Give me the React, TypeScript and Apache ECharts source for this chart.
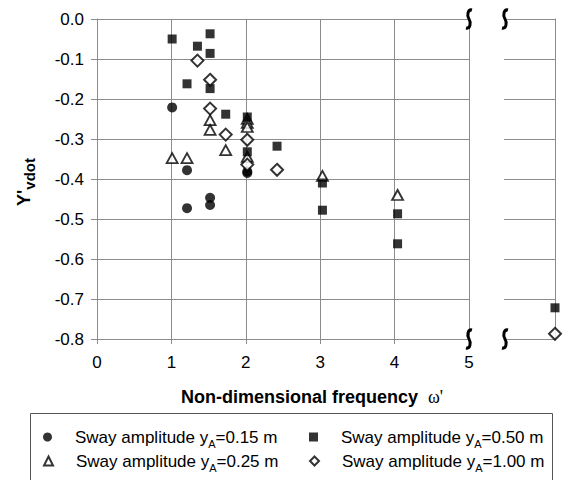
import React, { useEffect, useRef } from "react";
import * as echarts from "echarts";

// Sway amplitudes y_A (m) – one series each
const amplitudes = ["0.15", "0.25", "0.50", "1.00"];

// Non-dimensional frequency ω' and Y'vdot for each amplitude
const freq015 = [1.01, 1.21, 1.21, 1.52, 1.52, 2.02, 2.02];
const yvdot015 = [-0.221, -0.378, -0.473, -0.447, -0.465, -0.381, -0.385];

const freq025 = [1.01, 1.21, 1.52, 1.52, 1.73, 2.02, 2.02, 2.02, 2.02, 3.03, 4.04];
const yvdot025 = [-0.348, -0.348, -0.253, -0.277, -0.328, -0.25, -0.26, -0.27, -0.345, -0.392, -0.44];

const freq050 = [1.01, 1.21, 1.35, 1.52, 1.52, 1.52, 1.73, 2.02, 2.02, 2.42, 3.03, 3.03, 4.04, 4.04];
const yvdot050 = [-0.05, -0.162, -0.068, -0.037, -0.086, -0.174, -0.238, -0.245, -0.332, -0.318, -0.41, -0.478, -0.487, -0.562];

const freq100 = [1.35, 1.52, 1.52, 1.73, 2.02, 2.02, 2.42];
const yvdot100 = [-0.104, -0.152, -0.224, -0.289, -0.302, -0.364, -0.377];

// Points beyond the axis break (very high frequency), placed on the break panel's axis
const brokenFreq = [1];
const yvdot050Broken = [-0.722];
const yvdot100Broken = [-0.787];

// Axis ticks
const xMin = 0, xMax = 5, xStep = 1;
const yMin = -0.8, yMax = 0, yStep = 0.1;

const FONT = "'Liberation Sans', Arial, sans-serif";
const GRID_COLOR = "#8c8c8c";

const BREAK_PATH = "M3,-9C-1,-10,-2.5,-4,0,0C2.5,4,1,10,-3,9";
try {
  echarts.graphic.registerShape("axisbreak", echarts.graphic.extendPath(BREAK_PATH, {}) as any);
} catch (e) {}

const names = amplitudes.map((a) => `Sway amplitude yA=${a} m`);
const pts = (xs: number[], ys: number[]) => xs.map((x, i) => [x, ys[i]]);

const filled = { color: "#000" };
const hollow = { color: "#fff", borderColor: "#000", borderWidth: 2 };

export default function App() {
  const ref = useRef<HTMLDivElement>(null);
  useEffect(() => {
    const chart = echarts.init(ref.current!, undefined, { renderer: "svg" });

    const styles = [
      { symbol: "circle", symbolSize: 10, itemStyle: filled },
      { symbol: "triangle", symbolSize: [11, 10], itemStyle: { ...hollow, borderWidth: 1.8 } },
      { symbol: "rect", symbolSize: 9, itemStyle: filled },
      { symbol: "diamond", symbolSize: 12, itemStyle: hollow },
    ];
    const mk = (idx: number, data: number[][], grid: number) => ({
      type: "scatter",
      name: names[idx],
      xAxisIndex: grid,
      yAxisIndex: grid,
      data,
      ...styles[idx],
      emphasis: { disabled: true },
    });

    const legendFormatter = (name: string) => {
      const a = amplitudes[names.indexOf(name)];
      return `{pad|}Sway amplitude y{sub|A}=${a} m`;
    };
    const legendText = {
      fontFamily: FONT,
      fontSize: 17,
      color: "#000",
      lineHeight: 18,
      rich: {
        pad: { width: 18, lineHeight: 18 },
        sub: { fontSize: 11, lineHeight: 11, padding: [13, 0, 0, 0], fontFamily: FONT },
      },
    };
    // legend slots: [left, top] for each amplitude
    const legendSlots = [
      [43, 425],
      [43, 449],
      [309, 425],
      [309, 449],
    ];
    const legends = names.map((n, i) => ({
      orient: "horizontal",
      left: legendSlots[i][0],
      top: legendSlots[i][1],
      padding: 0,
      itemWidth: 9,
      itemHeight: 9,
      formatter: legendFormatter,
      textStyle: legendText,
      selectedMode: false,
      data: [n],
    }));

    const axisLineStyle = { color: GRID_COLOR, width: 1 };

    const breakMark = (x: number, y: number) => ({
      type: "axisbreak",
      x,
      y,
      z: 100,
      style: { fill: "none", stroke: "#000", lineWidth: 3 },
    });

    chart.setOption({
      animation: false,
      grid: [
        { left: 97, top: 19, width: 372, height: 320 },
        { left: 504, top: 19, width: 51, height: 320 },
      ],
      xAxis: [
        {
          gridIndex: 0,
          type: "value",
          min: xMin,
          max: xMax,
          interval: xStep,
          axisLine: { show: true, onZero: false, lineStyle: axisLineStyle },
          axisTick: { show: true, length: 5, lineStyle: axisLineStyle },
          axisLabel: { fontFamily: FONT, fontSize: 17, color: "#000", margin: 15 },
          splitLine: { show: true, lineStyle: { color: GRID_COLOR } },
        },
        {
          gridIndex: 1,
          type: "value",
          min: 0,
          max: 1,
          interval: 1,
          axisLine: { show: true, onZero: false, lineStyle: axisLineStyle },
          axisTick: { show: false },
          axisLabel: { show: false },
          splitLine: { show: false },
        },
      ],
      yAxis: [
        {
          gridIndex: 0,
          type: "value",
          min: yMin,
          max: yMax,
          interval: yStep,
          axisLine: { show: true, onZero: false, lineStyle: axisLineStyle },
          axisTick: { show: true, length: 6, lineStyle: axisLineStyle },
          axisLabel: {
            fontFamily: FONT,
            fontSize: 17,
            color: "#000",
            margin: 13,
            formatter: (v: number) => v.toFixed(1),
          },
          splitLine: { show: true, lineStyle: { color: GRID_COLOR } },
        },
        {
          gridIndex: 1,
          type: "value",
          position: "right",
          min: yMin,
          max: yMax,
          interval: yStep,
          axisLine: { show: true, onZero: false, lineStyle: axisLineStyle },
          axisTick: { show: false },
          axisLabel: { show: false },
          splitLine: { show: true, lineStyle: { color: GRID_COLOR } },
        },
      ],
      legend: legends,
      series: [
        mk(0, pts(freq015, yvdot015), 0),
        mk(1, pts(freq025, yvdot025), 0),
        mk(2, pts(freq050, yvdot050), 0),
        mk(3, pts(freq100, yvdot100), 0),
        mk(2, pts(brokenFreq, yvdot050Broken), 1),
        mk(3, pts(brokenFreq, yvdot100Broken), 1),
      ],
      graphic: [
        {
          type: "rect",
          shape: { x: 30.5, y: 413.5, width: 522, height: 80 },
          style: { fill: "none", stroke: "#555", lineWidth: 1 },
        },
        {
          type: "text",
          x: 312,
          y: 397,
          style: {
            text: "Non-dimensional frequency  {w|ω'}",
            fontFamily: FONT,
            fontWeight: "bold",
            fontSize: 18,
            fill: "#000",
            align: "center",
            verticalAlign: "middle",
            rich: {
              w: { fontFamily: "'Liberation Serif', serif", fontWeight: "normal", fontSize: 18, fill: "#000" },
            },
          },
        },
        {
          type: "text",
          x: 24,
          y: 182,
          rotation: Math.PI / 2,
          style: {
            text: "Y'{sub|vdot}",
            fontFamily: FONT,
            fontWeight: "bold",
            fontSize: 18,
            lineHeight: 19,
            fill: "#000",
            align: "center",
            verticalAlign: "middle",
            rich: {
              sub: { fontFamily: FONT, fontWeight: "bold", fontSize: 15, lineHeight: 15, padding: [10, 0, 0, 0], fill: "#000" },
            },
          },
        },
        breakMark(469, 19),
        breakMark(505, 19),
        breakMark(469, 339),
        breakMark(505, 339),
      ],
    });
    return () => chart.dispose();
  }, []);
  return (
    <div
      ref={ref}
      style={{ position: "absolute", left: 0, top: 0, width: 565, height: 480, background: "#fff" }}
    />
  );
}
